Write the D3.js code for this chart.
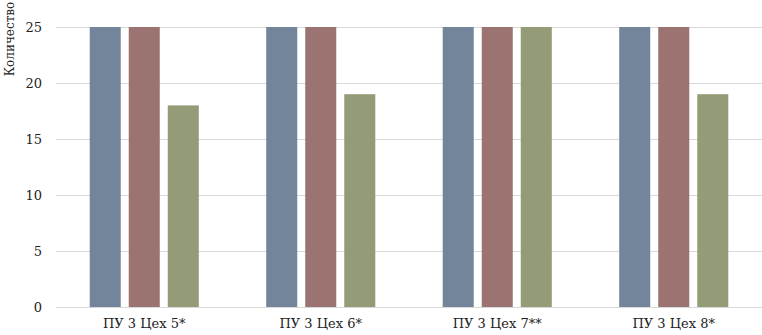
<!DOCTYPE html>
<html>
<head>
<meta charset="utf-8">
<script src="https://cdn.jsdelivr.net/npm/d3@7"></script>
<style>
  body { margin: 0; background: #fff; }
  svg text { font-family: "DejaVu Serif", serif; }
</style>
</head>
<body>
<svg id="chart"></svg>
<script>
// chart data
var categories = ["ПУ 3 Цех 5*", "ПУ 3 Цех 6*", "ПУ 3 Цех 7**", "ПУ 3 Цех 8*"];
var seriesNames = ["s1", "s2", "s3"];
var series1 = [25, 25, 25, 25];
var series2 = [25, 25, 25, 25];
var series3 = [18, 19, 25, 19];
var yTicks = [0, 5, 10, 15, 20, 25];
var colors = ["#72859b", "#9b7472", "#939b77"];
var yLabel = "Количество";

var allSeries = [series1, series2, series3];
var rows = categories.map(function(c, i) {
  return { cat: c, values: allSeries.map(function(s, j) { return { key: seriesNames[j], value: s[i] }; }) };
});

var W = 762, H = 335;
var margin = {top: 27, right: 0, bottom: 28, left: 56};
var width = W - margin.left - margin.right,
    height = H - margin.top - margin.bottom;

var svg = d3.select("#chart").attr("width", W).attr("height", H)
  .append("g")
  .attr("transform", "translate(" + margin.left + "," + margin.top + ")");

var x0 = d3.scaleBand().domain(categories).range([0, width])
  .paddingInner(0.382).paddingOuter(0.191);
var x1 = d3.scaleBand().domain(seriesNames).range([0, x0.bandwidth()])
  .paddingInner(0.205).paddingOuter(0);
var y = d3.scaleLinear().domain([0, 25]).range([height, 0]);

// gridlines
svg.append("g")
  .selectAll("line")
  .data(yTicks)
  .enter()
  .append("line")
  .attr("x1", 0).attr("x2", width)
  .attr("y1", function(d) { return Math.round(y(d)) + 0.5; })
  .attr("y2", function(d) { return Math.round(y(d)) + 0.5; })
  .attr("stroke", "#d9d9d9")
  .attr("stroke-width", 1);

// y tick labels
svg.append("g")
  .selectAll("text")
  .data(yTicks)
  .enter()
  .append("text")
  .attr("x", -14)
  .attr("y", function(d) { return y(d); })
  .attr("dy", "0.35em")
  .attr("text-anchor", "end")
  .attr("font-size", 13)
  .attr("fill", "#222")
  .text(function(d) { return d; });

// bars
var groups = svg.selectAll(".grp")
  .data(rows)
  .enter()
  .append("g")
  .attr("class", "grp")
  .attr("transform", function(d) { return "translate(" + x0(d.cat) + ",0)"; });

groups.selectAll("rect")
  .data(function(d) { return d.values; })
  .enter()
  .append("rect")
  .attr("x", function(d) { return x1(d.key); })
  .attr("y", function(d) { return y(d.value); })
  .attr("width", x1.bandwidth())
  .attr("height", function(d) { return height - y(d.value); })
  .attr("fill", function(d, i) { return colors[i]; });

// category labels
svg.append("g")
  .selectAll("text")
  .data(categories)
  .enter()
  .append("text")
  .attr("x", function(d) { return x0(d) + x0.bandwidth() / 2; })
  .attr("y", height + 21)
  .attr("text-anchor", "middle")
  .attr("font-size", 13)
  .attr("fill", "#222")
  .text(function(d) { return d; });

// y axis title
d3.select("#chart").append("text")
  .attr("transform", "translate(14,39) rotate(-90)")
  .attr("text-anchor", "middle")
  .attr("font-size", 12)
  .attr("fill", "#222")
  .text(yLabel);
</script>
</body>
</html>
